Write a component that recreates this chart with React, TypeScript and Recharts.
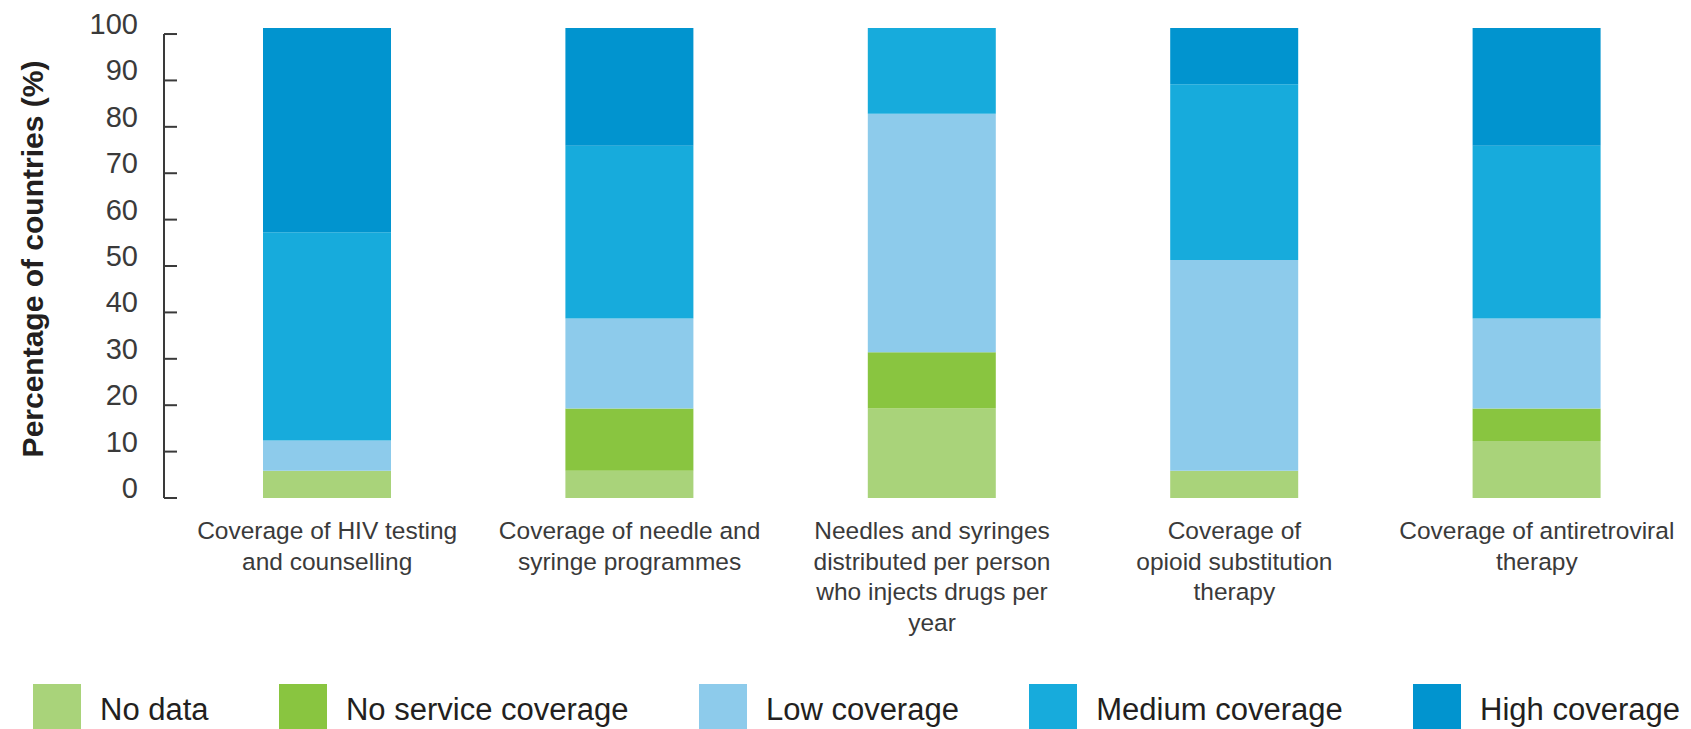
import { Bar, BarChart, Legend, XAxis, YAxis } from "recharts";

const categories = ["hiv", "nsp", "needles", "ost", "art"];
const tickLines = [
  ["Coverage of HIV testing", "and counselling"],
  ["Coverage of needle and", "syringe programmes"],
  ["Needles and syringes", "distributed per person", "who injects drugs per", "year"],
  ["Coverage of", "opioid substitution", "therapy"],
  ["Coverage of antiretroviral", "therapy"],
];
const noData = [5.9, 5.9, 19.3, 5.9, 12.3];
const noService = [0, 13.4, 12.1, 0, 7.0];
const low = [6.5, 19.4, 51.4, 45.4, 19.4];
const medium = [44.9, 37.2, 18.5, 37.9, 37.2];
const high = [44.0, 25.4, 0, 12.1, 25.4];
const yTicks = [0, 10, 20, 30, 40, 50, 60, 70, 80, 90, 100];

const series = [
  { key: "noData", name: "No data", color: "#a9d37a", values: noData },
  { key: "noService", name: "No service coverage", color: "#89c540", values: noService },
  { key: "low", name: "Low coverage", color: "#8dcbeb", values: low },
  { key: "medium", name: "Medium coverage", color: "#17abdc", values: medium },
  { key: "high", name: "High coverage", color: "#0194cf", values: high },
];

const rows = categories.map((c, i) => {
  const row: Record<string, string | number> = { category: c };
  series.forEach((s) => (row[s.key] = s.values[i]));
  return row;
});

const FONT = '"Liberation Sans", Arial, sans-serif';
const TOP = 28;
const BOTTOM = 231;
const HEIGHT = 729;
const Y_MAX = 101.3;
const PX_PER_UNIT = (HEIGHT - TOP - BOTTOM) / Y_MAX;

function YTick(props: any) {
  const { x, y, payload } = props;
  return (
    <g>
      <text x={x - 26} y={y} textAnchor="end" fontSize={29} fill="#3a3a3a" fontFamily={FONT}>
        {payload.value}
      </text>
      <line x1={x} x2={x + 13} y1={y} y2={y} stroke="#3a3a3a" strokeWidth={2} />
      {payload.value === 100 && (
        <line x1={x} x2={x} y1={y} y2={y + 100 * PX_PER_UNIT} stroke="#3a3a3a" strokeWidth={2} />
      )}
    </g>
  );
}

function XTick(props: any) {
  const { x, y, payload } = props;
  const lines = tickLines[categories.indexOf(payload.value)] || [];
  return (
    <text x={x} y={y + 41} textAnchor="middle" fontSize={24.5} fill="#3a3a3a" fontFamily={FONT}>
      {lines.map((l, i) => (
        <tspan key={i} x={x} dy={i === 0 ? 0 : 30.5}>
          {l}
        </tspan>
      ))}
    </text>
  );
}

function YTitle(props: any) {
  const { viewBox } = props;
  const cy = viewBox.y + viewBox.height / 2 - 4;
  return (
    <text
      transform={`translate(43, ${cy}) rotate(-90)`}
      textAnchor="middle"
      fontSize={30}
      fontWeight="bold"
      fill="#231f20"
      fontFamily={FONT}
    >
      Percentage of countries (%)
    </text>
  );
}

function LegendBox() {
  return (
    <div style={{ display: "flex", justifyContent: "space-between", fontFamily: FONT }}>
      {series.map((s) => (
        <div key={s.key} style={{ display: "flex", alignItems: "flex-start" }}>
          <div style={{ width: 48, height: 48, background: s.color }} />
          <span
            style={{ marginLeft: 19, marginTop: 10, fontSize: 31, lineHeight: "31px", color: "#231f20" }}
          >
            {s.name}
          </span>
        </div>
      ))}
    </div>
  );
}

export default function App() {
  return (
    <div
      style={{
        position: "absolute",
        left: 0,
        top: 0,
        width: 1691,
        height: HEIGHT,
        overflow: "hidden",
        background: "#fff",
      }}
    >
      <BarChart
        width={1691}
        height={HEIGHT}
        data={rows}
        margin={{ top: TOP, right: 3, bottom: BOTTOM - 120, left: 0 }}
      >
        <XAxis
          dataKey="category"
          height={120}
          axisLine={false}
          tickLine={false}
          tickSize={0}
          tickMargin={0}
          interval={0}
          padding={{ left: 12, right: 0 }}
          tick={<XTick />}
        />
        <YAxis
          width={164}
          domain={[0, Y_MAX]}
          ticks={yTicks}
          allowDataOverflow
          axisLine={false}
          tickLine={false}
          tickSize={0}
          tickMargin={0}
          tick={<YTick />}
          label={<YTitle />}
        />
        {series.map((s) => (
          <Bar
            key={s.key}
            dataKey={s.key}
            name={s.name}
            stackId="a"
            fill={s.color}
            barSize={128}
            isAnimationActive={false}
          />
        ))}
        <Legend
          layout="horizontal"
          verticalAlign="middle"
          align="center"
          content={<LegendBox />}
          wrapperStyle={{ top: 684, left: 33, width: 1647, height: 48 }}
        />
      </BarChart>
    </div>
  );
}
